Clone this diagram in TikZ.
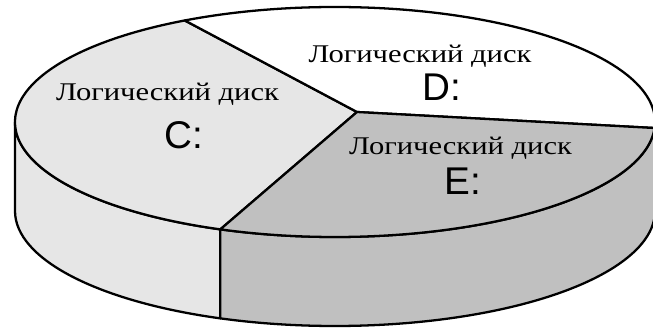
\documentclass[tikz,border=0pt]{standalone}
\usepackage{fontspec}
\setmainfont{Liberation Serif}
\newfontfamily\diskfont[FakeStretch=1.2]{Liberation Serif}
\newfontfamily\letterfont{Liberation Sans}
\usetikzlibrary{calc}
\definecolor{DiskLight}{RGB}{230,230,230}
\definecolor{DiskDark}{RGB}{192,192,192}

\tikzset{
  rim/.style={line width=1.3pt, line join=round},
  disklabel/.style={font=\diskfont\fontsize{14.5}{16}\selectfont, anchor=base, inner sep=0pt},
  diskletter/.style={font=\letterfont\fontsize{22}{24}\selectfont, anchor=base, inner sep=0pt},
}

\begin{document}
\begin{tikzpicture}[x=0.02cm, y=0.02cm]
    \useasboundingbox (0,0) rectangle (653,328);
    \clip (0,0) rectangle (653,328);

    % centres of top and bottom ellipse, apex of the sectors
    \coordinate (top) at (335,206);
    \coordinate (bot) at (335,117);
    \coordinate (apex) at (357,216);
    \coordinate (west) at ($(top)+(180:320 and 115)$);
    \coordinate (cd) at ($(top)+(118:320 and 115)$);
    \coordinate (ce) at ($(top)+(249:320 and 115)$);
    \coordinate (de) at ($(top)+(-3:320 and 115)$);
    \coordinate (westB) at ($(bot)+(180:320 and 115)$);
    \coordinate (ceB) at ($(bot)+(249:320 and 115)$);
    \coordinate (deB) at ($(bot)+(-3:320 and 115)$);

    % C side
    \filldraw[rim, fill=DiskLight] (west) arc[start angle=180, end angle=249, x radius=320, y radius=115]
      -- (ceB) arc[start angle=249, end angle=180, x radius=320, y radius=115] -- cycle;
    % E side
    \filldraw[rim, fill=DiskDark] (ce) arc[start angle=249, end angle=357, x radius=320, y radius=115]
      -- (deB) arc[start angle=357, end angle=249, x radius=320, y radius=115] -- cycle;

    % top sectors
    \filldraw[rim, fill=DiskLight] (apex) -- (cd) arc[start angle=118, end angle=249, x radius=320, y radius=115] -- cycle;
    \filldraw[rim, fill=white] (apex) -- (de) arc[start angle=-3, end angle=118, x radius=320, y radius=115] -- cycle;
    \filldraw[rim, fill=DiskDark] (apex) -- (ce) arc[start angle=249, end angle=357, x radius=320, y radius=115] -- cycle;

    % labels
    \node[disklabel] (lblC) at (167.5,227) {Логический диск};
    \node[diskletter] (letC) at (184,179) {C:};
    \node[disklabel] (lblD) at (420,265) {Логический диск};
    \node[diskletter] (letD) at (442,227) {D:};
    \node[disklabel] (lblE) at (460.5,173) {Логический диск};
    \node[diskletter] (letE) at (463,133) {E:};
\end{tikzpicture}
\end{document}
